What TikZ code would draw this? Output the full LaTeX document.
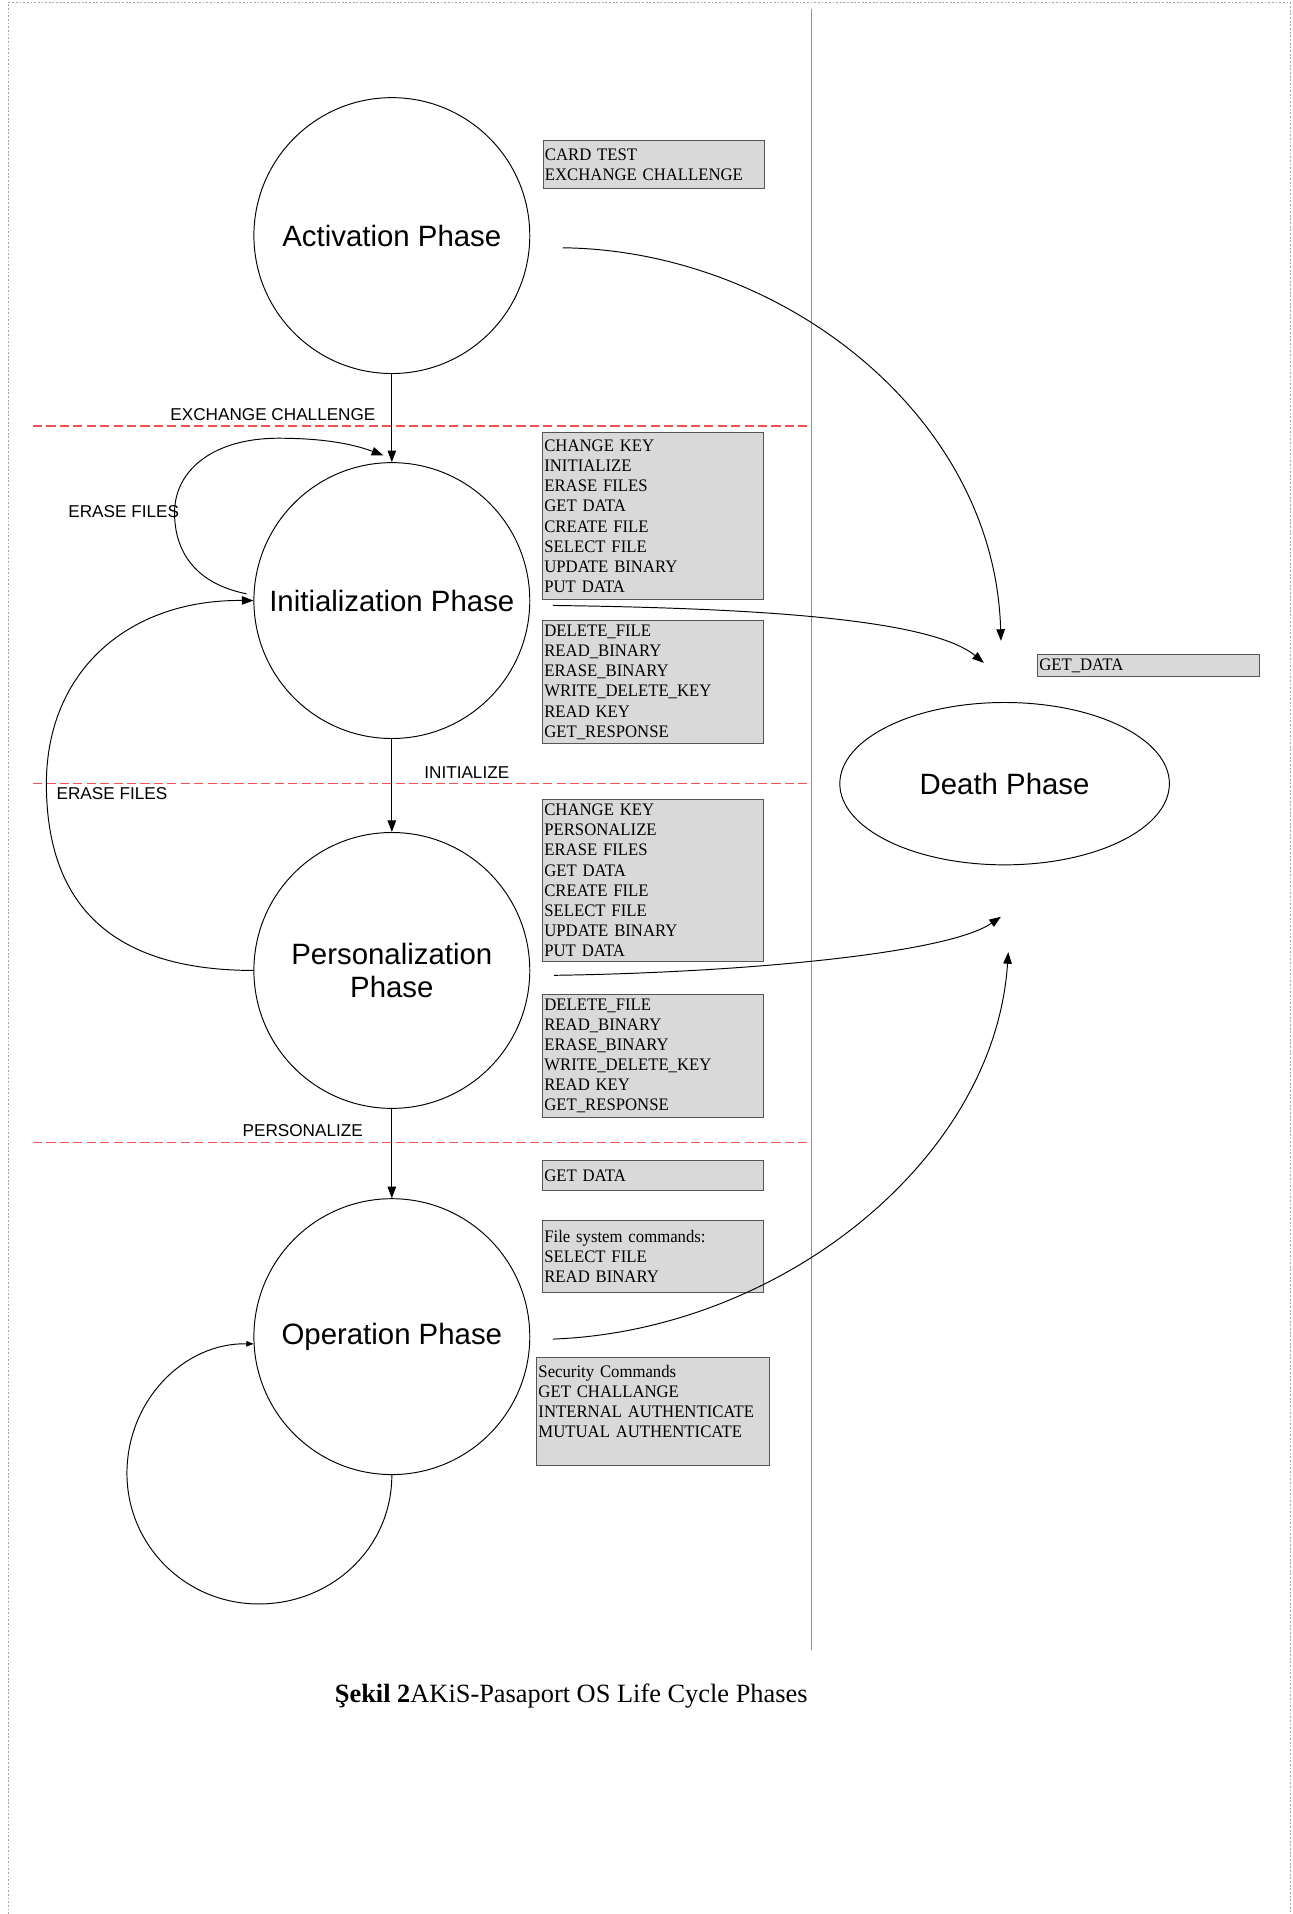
\documentclass[tikz,border=0pt]{standalone}
\usepackage{fontspec}
\setmainfont{Liberation Serif}
\newfontfamily\sansfam{Liberation Sans}
\newfontfamily\cmdfam[FakeStretch=0.95]{Liberation Serif}
\usepackage{tikz}
\usetikzlibrary{shapes.geometric}
\usetikzlibrary{arrows.meta}
\usepackage{xcolor}
\definecolor{boxgray}{RGB}{217,217,217}
\definecolor{boxline}{RGB}{85,85,85}
\definecolor{phaseline}{RGB}{245,80,80}
\definecolor{splitline}{RGB}{95,160,215}

\begin{document}
\begin{tikzpicture}[x=0.2mm,y=-0.2mm]
	\tikzstyle{phase}=[draw,circle,minimum size=45.2mm,inner sep=0pt,line width=.45pt,font=\sansfam\fontsize{13.7}{15.5}\selectfont,align=center]
	\tikzstyle{deathphase}=[draw,ellipse,minimum width=54mm,minimum height=26.6mm,inner sep=0pt,line width=.45pt,font=\sansfam\fontsize{13.7}{15.5}\selectfont]
	\tikzstyle{cmds}=[draw=boxline,fill=boxgray,line width=.5pt,anchor=north west,text width=35.6mm,inner xsep=.3mm,inner ysep=.7mm,align=left,font=\cmdfam\fontsize{8.2}{9.4}\selectfont]
	\tikzstyle{trans}=[inner sep=0pt,font=\sansfam\fontsize{8}{9.6}\selectfont]
	\tikzstyle{edge}=[draw,line width=.45pt,-{Triangle[length=1.9mm,width=1.4mm]},black]
	\tikzstyle{smalledge}=[draw,line width=.45pt,-{Triangle[length=1.2mm,width=.9mm]},black]
	\tikzstyle{border}=[draw,phaseline,line width=.5pt,dash pattern=on 1.5mm off .7mm]
	\tikzstyle{divider}=[draw,splitline,line width=.5pt]
	\tikzstyle{frame}=[draw,gray!70,line width=.4pt,dash pattern=on .3mm off .3mm]
	\useasboundingbox (0,0) rectangle (1059,1568);
	\draw[frame] (7,1568) -- (7,2) -- (1057,2) -- (1057,1568);
	\draw[divider] (665,7) -- (665,1352);
	\draw[border] (27,349) -- (663,349);
	\draw[border] (27,642) -- (663,642);
	\draw[border] (27,936) -- (663,936);

	\node[phase] (act) at (321,193) {Activation Phase};
	\node[phase] (ini) at (321,492) {Initialization Phase};
	\node[phase] (per) at (321,795) {Personalization\\Phase};
	\node[phase] (ope) at (321,1095) {Operation Phase};
	\node[deathphase] (dth) at (823,642) {Death Phase};

	\node[cmds,minimum height=7.9mm] (actcmd) at (444.5,114.7) {CARD TEST\\EXCHANGE CHALLENGE};
	\node[cmds,minimum height=27.4mm] (inicmd) at (444,354) {CHANGE KEY\\INITIALIZE\\ERASE FILES\\GET DATA\\CREATE FILE\\SELECT FILE\\UPDATE BINARY\\PUT DATA};
	\node[cmds,minimum height=20.1mm] (inifile) at (444,508) {DELETE\_FILE\\READ\_BINARY\\ERASE\_BINARY\\WRITE\_DELETE\_KEY\\READ KEY\\GET\_RESPONSE};
	\node[cmds,minimum height=26.4mm] (percmd) at (444,654.6) {CHANGE KEY\\PERSONALIZE\\ERASE FILES\\GET DATA\\CREATE FILE\\SELECT FILE\\UPDATE BINARY\\PUT DATA};
	\node[cmds,minimum height=20.2mm] (perfile) at (444,814) {DELETE\_FILE\\READ\_BINARY\\ERASE\_BINARY\\WRITE\_DELETE\_KEY\\READ KEY\\GET\_RESPONSE};
	\node[cmds,minimum height=4.9mm] (opedata) at (444,950.6) {GET DATA};
	\node[cmds,minimum height=11.8mm] (opefile) at (444,999.4) {File system commands:\\SELECT FILE\\READ BINARY};
	\node[cmds,minimum height=17.6mm,text width=37.5mm] (opesec) at (439.2,1112) {Security Commands\\GET CHALLANGE\\INTERNAL AUTHENTICATE\\MUTUAL AUTHENTICATE\\\mbox{}};
	\node[cmds,minimum height=3.7mm,text width=35.8mm] (dthcmd) at (849.5,535.6) {GET\_DATA};

	\draw[edge] (act) -- (ini);
	\draw[edge] (ini) -- (per);
	\draw[edge] (per) -- (ope);
	\node[trans] (lxchg) at (223.6,340) {EXCHANGE CHALLENGE};
	\node[trans] (linit) at (382.4,633) {INITIALIZE};
	\node[trans] (lpers) at (248,926.6) {PERSONALIZE};

	\coordinate (loopin) at (202,486.5);
	\coordinate (loopout) at (314,373);
	\draw[edge] (loopin) .. controls (160,478) and (143,452) .. (143,420) .. controls (143,385) and (175,359) .. (228,359) .. controls (262,359) and (287,363) .. (loopout);
	\node[trans] (lerase) at (101.3,418.8) {ERASE FILES};
	\draw[edge] (per.west) .. controls (90,795) and (38,740) .. (38,642) .. controls (38,550) and (105,491) .. (ini.west);
	\node[trans] (lback) at (91.7,650.5) {ERASE FILES};
	\draw[smalledge] (ope.south) .. controls (321,1268) and (272,1314) .. (212,1314) .. controls (152,1314) and (104,1266) .. (104,1207) .. controls (104,1148) and (150,1100) .. (ope.183);

	\coordinate (actout) at (461,203);
	\coordinate (iniout) at (453,496);
	\coordinate (perout) at (454,799);
	\coordinate (opeout) at (453,1097);
	\coordinate (dthin1) at (820,525);
	\coordinate (dthin2) at (806,543);
	\coordinate (dthin3) at (820,751);
	\coordinate (dthin4) at (826,780);
	\draw[edge] (actout) .. controls (640,205) and (815,340) .. (dthin1);
	\draw[edge] (iniout) .. controls (600,498) and (760,505) .. (dthin2);
	\draw[edge] (perout) .. controls (600,797) and (775,782) .. (dthin3);
	\draw[edge] (opeout) .. controls (640,1090) and (815,950) .. (dthin4);

	\node[anchor=base west,inner sep=0pt,font=\fontsize{12.3}{14}\selectfont] (caption) at (274,1395) {\textbf{Şekil 2}AKiS-Pasaport OS Life Cycle Phases};
\end{tikzpicture}
\end{document}
